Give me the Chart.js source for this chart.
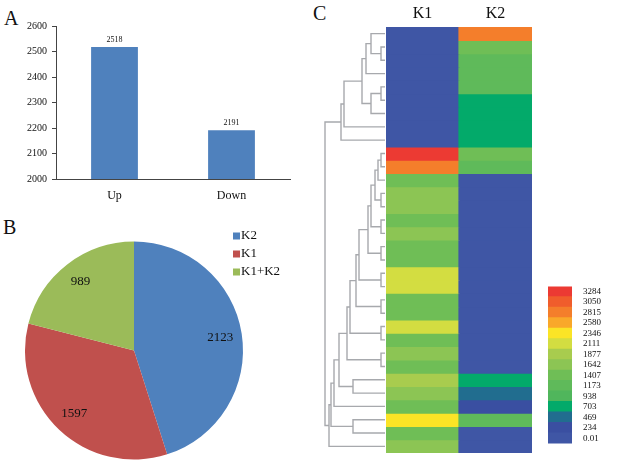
<!DOCTYPE html>
<html lang="en">
<head>
<meta charset="UTF-8">
<title>DEG summary</title>
<script src="https://cdn.jsdelivr.net/npm/chart.js"></script>
<style>
    body { margin: 0; background: #fff; font-family: "Liberation Serif", serif; }
    #page { position: relative; width: 619px; height: 465px; overflow: hidden; }
    .box { position: absolute; }
    .tag { position: absolute; font-size: 20px; line-height: 1; color: #111; }
</style>
</head>
<body>
<div id="page">
    <div class="tag" style="left:4px;top:8px">A</div>
    <div class="tag" style="left:3px;top:217px">B</div>
    <div class="tag" style="left:313px;top:3px">C</div>
    <div class="box" style="left:0;top:0;width:300px;height:205px"><canvas id="barChart"></canvas></div>
    <div class="box" style="left:0;top:205px;width:310px;height:260px"><canvas id="pieChart"></canvas></div>
    <div class="box" style="left:320px;top:0;width:65px;height:465px"><canvas id="treeChart"></canvas></div>
    <div class="box" style="left:386px;top:0;width:146px;height:465px"><canvas id="heatChart"></canvas></div>
    <div class="box" style="left:548px;top:270px;width:71px;height:190px"><canvas id="scaleChart"></canvas></div>
</div>

<script>
    // A: up / down regulated
    const regLabels = ['Up', 'Down'];
    const regCounts = [2518, 2191];

    // B: pie
    const pieLabels = ['K2', 'K1', 'K1+K2'];
    const pieCounts = [2123, 1597, 989];
    const pieColors = ['#4f81bd', '#c0504d', '#9bbb59'];

    // C: heatmap columns (rows top to bottom)
    const heatCols = ['K1', 'K2'];
    const k1Values = [0.01, 0.01, 0.01, 0.01, 0.01, 0.01, 0.01, 0.01, 0.01,
        3284, 2815, 1407, 1642, 1642, 1407, 1642, 1407, 1407, 2111, 2111, 1407,
        1407, 2111, 1407, 1642, 1407, 1877, 1642, 1407, 2346, 1407, 1642];
    const k2Values = [2815, 1407, 1173, 1173, 1173, 703, 703, 703, 703,
        1407, 1173, 0.01, 0.01, 0.01, 0.01, 0.01, 0.01, 0.01, 0.01, 0.01, 0.01,
        0.01, 0.01, 0.01, 0.01, 0.01, 703, 469, 234, 1173, 0.01, 0.01];

    // colour key
    const scaleLabels = ['3284', '3050', '2815', '2580', '2346', '2111', '1877', '1642',
        '1407', '1173', '938', '703', '469', '234', '0.01'];
    const scaleColors = ['#ec3a33', '#f05d2c', '#f47e2b', '#f9a82a', '#fbe426', '#d3dd41',
        '#a8cc4e', '#8cc554', '#6fbe56', '#5fba5a', '#50b65c', '#03aa6a', '#216d8f', '#3a4fa1', '#3f56a5'];

    // row dendrogram: [child a, child b, merge height], leaves 0..31, new nodes from 32
    const treeLinks = [
        [1, 2, 4], [0, 32, 14], [33, 3, 19], [4, 5, 4], [35, 6, 14], [34, 36, 23],
        [37, 7, 41], [38, 8, 44],
        [9, 10, 4], [40, 11, 7], [12, 13, 4], [41, 42, 10], [14, 15, 4], [43, 44, 14],
        [16, 17, 4], [45, 46, 17], [18, 19, 4], [47, 48, 26], [20, 21, 4], [49, 50, 29],
        [22, 23, 4], [51, 52, 35], [24, 25, 4], [53, 54, 38], [26, 27, 32], [55, 56, 46],
        [57, 28, 51], [29, 30, 32], [58, 59, 54], [60, 31, 56], [39, 61, 60]
    ];

    const serif = 'Liberation Serif';
    const base = {
        responsive: true,
        maintainAspectRatio: false,
        animation: false,
        events: []
    };
    const quiet = { legend: { display: false }, tooltip: { enabled: false } };

    // ---- A: bar chart ----
    const barValues = {
        id: 'barValues',
        afterDatasetsDraw(chart) {
            const ctx = chart.ctx;
            ctx.save();
            ctx.font = '8px ' + serif;
            ctx.fillStyle = '#111';
            ctx.textAlign = 'center';
            ctx.textBaseline = 'bottom';
            chart.getDatasetMeta(0).data.forEach((bar, i) => {
                ctx.fillText(chart.data.datasets[0].data[i], bar.x, bar.y - 3);
            });
            ctx.restore();
        }
    };

    new Chart(document.getElementById('barChart'), {
        type: 'bar',
        data: {
            labels: regLabels,
            datasets: [{ data: regCounts, backgroundColor: '#4f81bd', barPercentage: 0.4, categoryPercentage: 1 }]
        },
        options: {
            ...base,
            layout: { padding: { top: 26, right: 10 } },
            plugins: quiet,
            scales: {
                x: {
                    grid: { display: false },
                    border: { color: '#444' },
                    ticks: { color: '#111', font: { family: serif, size: 12 }, padding: 2 },
                    afterFit: s => { s.height = 26; }
                },
                y: {
                    min: 2000, max: 2600,
                    ticks: { stepSize: 100, color: '#111', font: { family: serif, size: 10 }, padding: 5, callback: v => v },
                    grid: { drawOnChartArea: false, tickLength: 4, color: '#444' },
                    border: { color: '#444' },
                    afterFit: s => { s.width = 56; }
                }
            }
        },
        plugins: [barValues]
    });

    // ---- B: pie chart ----
    const pieText = {
        id: 'pieText',
        afterDraw(chart) {
            const ctx = chart.ctx;
            ctx.save();
            ctx.fillStyle = '#111';
            ctx.font = '13px ' + serif;
            ctx.textAlign = 'center';
            ctx.textBaseline = 'middle';
            chart.getDatasetMeta(0).data.forEach((arc, i) => {
                const mid = (arc.startAngle + arc.endAngle) / 2;
                const r = arc.outerRadius * 0.8;
                ctx.fillText(pieCounts[i], arc.x + Math.cos(mid) * r, arc.y + Math.sin(mid) * r);
            });
            // legend
            ctx.textAlign = 'left';
            pieLabels.forEach((lab, i) => {
                const y = 31 + i * 18;
                ctx.fillStyle = pieColors[i];
                ctx.fillRect(233, y - 3.5, 7, 7);
                ctx.fillStyle = '#111';
                ctx.fillText(lab, 241, y);
            });
            ctx.restore();
        }
    };

    new Chart(document.getElementById('pieChart'), {
        type: 'pie',
        data: {
            labels: pieLabels,
            datasets: [{ data: pieCounts, backgroundColor: pieColors, borderWidth: 0 }]
        },
        options: {
            ...base,
            layout: { padding: { left: 25, right: 67, top: 36, bottom: 5 } },
            plugins: quiet
        },
        plugins: [pieText]
    });

    // ---- C: dendrogram ----
    const nodePos = k1Values.map((v, i) => i + 0.5);
    const nodeHeight = k1Values.map(() => 0);
    const treeSets = treeLinks.map(([a, b, h]) => {
        const seg = [
            { x: nodeHeight[a], y: nodePos[a] }, { x: h, y: nodePos[a] },
            { x: h, y: nodePos[b] }, { x: nodeHeight[b], y: nodePos[b] }
        ];
        nodePos.push((nodePos[a] + nodePos[b]) / 2);
        nodeHeight.push(h);
        return { data: seg, showLine: true, pointRadius: 0, borderColor: '#a7a9ad', borderWidth: 1.4, tension: 0, clip: false };
    });

    new Chart(document.getElementById('treeChart'), {
        type: 'scatter',
        data: { datasets: treeSets },
        options: {
            ...base,
            layout: { padding: { top: 27, bottom: 12 } },
            plugins: quiet,
            scales: {
                x: { type: 'linear', min: 0, max: 65, reverse: true, display: false },
                y: { type: 'linear', min: 0, max: k1Values.length, reverse: true, display: false }
            }
        }
    });

    // ---- C: heatmap ----
    const scaleValues = scaleLabels.map(Number);
    function cellColor(v) {
        for (let i = 0; i < scaleValues.length; i++) {
            if (v >= scaleValues[i]) return scaleColors[i];
        }
        return scaleColors[scaleColors.length - 1];
    }

    const heatSets = k1Values.map((v, i) => ({
        data: [1, 1],
        backgroundColor: [cellColor(v), cellColor(k2Values[i])],
        borderWidth: 0,
        inflateAmount: 0.6,
        barPercentage: 1,
        categoryPercentage: 1
    }));

    new Chart(document.getElementById('heatChart'), {
        type: 'bar',
        data: { labels: heatCols, datasets: heatSets },
        options: {
            ...base,
            layout: { padding: { bottom: 12 } },
            plugins: quiet,
            scales: {
                x: {
                    stacked: true,
                    position: 'top',
                    grid: { display: false, drawTicks: false },
                    border: { display: false },
                    ticks: { color: '#111', font: { family: serif, size: 16 }, padding: 4 },
                    afterFit: s => { s.height = 27; }
                },
                y: { stacked: true, reverse: true, min: 0, max: k1Values.length, display: false }
            }
        }
    });

    // ---- colour key ----
    new Chart(document.getElementById('scaleChart'), {
        type: 'bar',
        data: {
            labels: scaleLabels,
            datasets: [{
                data: scaleLabels.map(() => 1),
                backgroundColor: scaleColors,
                borderWidth: 0,
                inflateAmount: 0.6,
                barPercentage: 1,
                categoryPercentage: 1
            }]
        },
        options: {
            ...base,
            indexAxis: 'y',
            layout: { padding: { top: 5, bottom: 7 } },
            plugins: quiet,
            scales: {
                x: { min: 0, max: 1, display: false },
                y: {
                    position: 'right',
                    grid: { display: false, drawTicks: false },
                    border: { display: false },
                    ticks: { color: '#111', font: { family: serif, size: 9 }, padding: 11, autoSkip: false },
                    afterFit: s => { s.width = 47; }
                }
            }
        }
    });
</script>
</body>
</html>
